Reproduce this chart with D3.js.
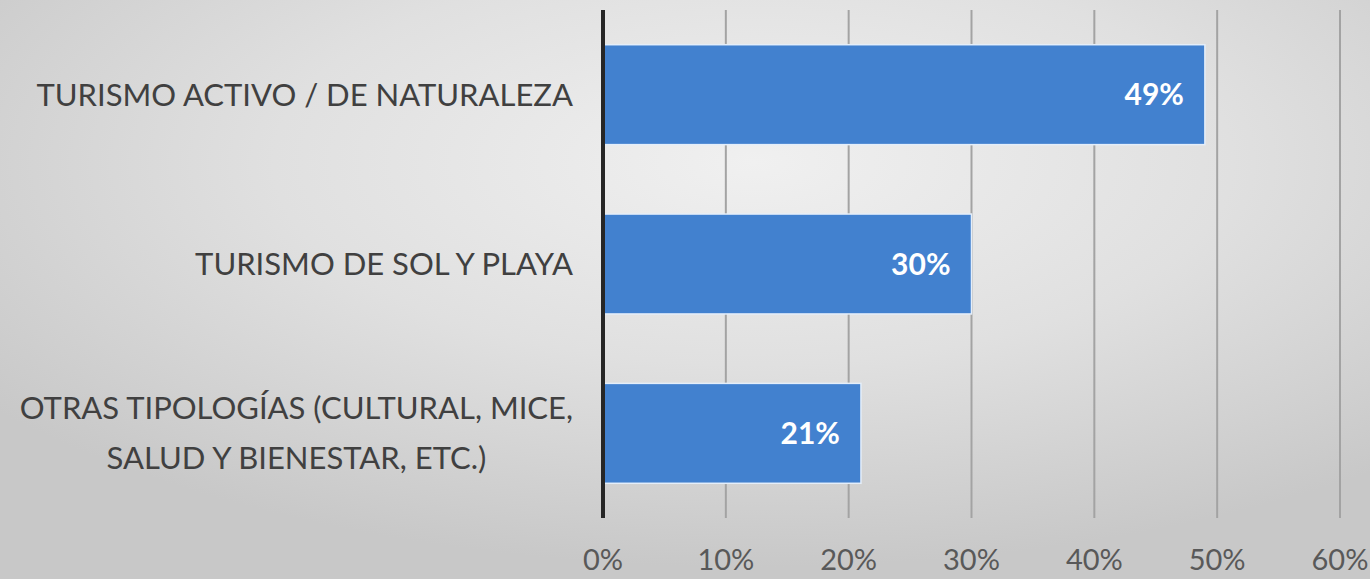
<!DOCTYPE html>
<html>
<head>
<meta charset="utf-8">
<script src="https://cdn.jsdelivr.net/npm/d3@7"></script>
<style>
  html, body { margin: 0; padding: 0; overflow: hidden; }
  svg { display: block; }
</style>
</head>
<body>
<div id="chart"></div>
<script>
// data
const categories = [
  ["TURISMO ACTIVO / DE NATURALEZA"],
  ["TURISMO DE SOL Y PLAYA"],
  ["OTRAS TIPOLOGÍAS (CULTURAL, MICE,", "SALUD Y BIENESTAR, ETC.)"]
];
const values = [0.49, 0.30, 0.21];
const ticks = [0, 0.1, 0.2, 0.3, 0.4, 0.5, 0.6];

const width = 1370;
const height = 579;
const margin = {top: 10, right: 30, bottom: 61, left: 603};

const svg = d3.select("#chart")
  .append("svg")
  .attr("width", width)
  .attr("height", height)
  .attr("viewBox", [0, 0, width, height]);

// background: soft radial grey
const defs = svg.append("defs");
const grad = defs.append("radialGradient")
  .attr("id", "bg")
  .attr("cx", "55%").attr("cy", "28%")
  .attr("r", "70%");
grad.append("stop").attr("offset", "0%").attr("stop-color", "#f0f0f0");
grad.append("stop").attr("offset", "50%").attr("stop-color", "#e0e0e0");
grad.append("stop").attr("offset", "100%").attr("stop-color", "#c8c8c8");
svg.append("rect").attr("width", width).attr("height", height).attr("fill", "url(#bg)");

const x = d3.scaleLinear()
  .domain([0, 0.6])
  .range([margin.left, 1340]);

const y = d3.scaleBand()
  .domain(d3.range(categories.length))
  .range([margin.top, height - margin.bottom])
  .paddingInner(0.41)
  .paddingOuter(0.205);

// vertical gridlines
svg.append("g")
  .selectAll("line")
  .data(ticks.slice(1))
  .join("line")
  .attr("x1", d => x(d)).attr("x2", d => x(d))
  .attr("y1", margin.top).attr("y2", height - margin.bottom)
  .attr("stroke", "#a3a3a3")
  .attr("stroke-width", 2);

// bars
svg.append("g")
  .selectAll("rect")
  .data(values)
  .join("rect")
  .attr("x", x(0))
  .attr("y", (d, i) => y(i))
  .attr("width", d => x(d) - x(0))
  .attr("height", y.bandwidth())
  .attr("fill", "#4281cf")
  .attr("stroke", "#e4eefa")
  .attr("stroke-width", 1.5);

// value labels
svg.append("g")
  .selectAll("text")
  .data(values)
  .join("text")
  .attr("x", d => x(d) - 21)
  .attr("y", (d, i) => y(i) + y.bandwidth() / 2)
  .attr("dy", "0.36em")
  .attr("text-anchor", "end")
  .attr("font-family", "Lato, sans-serif")
  .attr("font-weight", "bold")
  .attr("font-size", 30)
  .attr("fill", "#ffffff")
  .text(d => d3.format(".0%")(d));

// category axis line
svg.append("line")
  .attr("x1", x(0)).attr("x2", x(0))
  .attr("y1", margin.top).attr("y2", height - margin.bottom)
  .attr("stroke", "#262626")
  .attr("stroke-width", 4);

// category labels (multi-line ones are centred on their own block)
const catG = svg.append("g")
  .attr("font-family", "Lato, sans-serif")
  .attr("font-size", 31)
  .attr("fill", "#404040");

categories.forEach((lines, i) => {
  const cy = y(i) + y.bandwidth() / 2;
  const lh = 50;
  const t = catG.append("text")
    .attr("y", cy - (lines.length - 1) * lh / 2);
  lines.forEach((ln, j) => {
    t.append("tspan").attr("x", 0).attr("dy", j === 0 ? "0.36em" : lh).text(ln);
  });
  // right-align the block to the axis, centre lines inside it
  const w = d3.max(t.selectAll("tspan").nodes(), n => n.getComputedTextLength());
  const cx = 573 - w / 2;
  t.attr("text-anchor", "middle").selectAll("tspan").attr("x", cx);
});

// value axis tick labels
svg.append("g")
  .selectAll("text")
  .data(ticks)
  .join("text")
  .attr("x", d => x(d))
  .attr("y", 570)
  .attr("text-anchor", "middle")
  .attr("font-family", "Lato, sans-serif")
  .attr("font-size", 29)
  .attr("fill", "#595959")
  .text(d => d3.format(".0%")(d));
</script>
</body>
</html>
